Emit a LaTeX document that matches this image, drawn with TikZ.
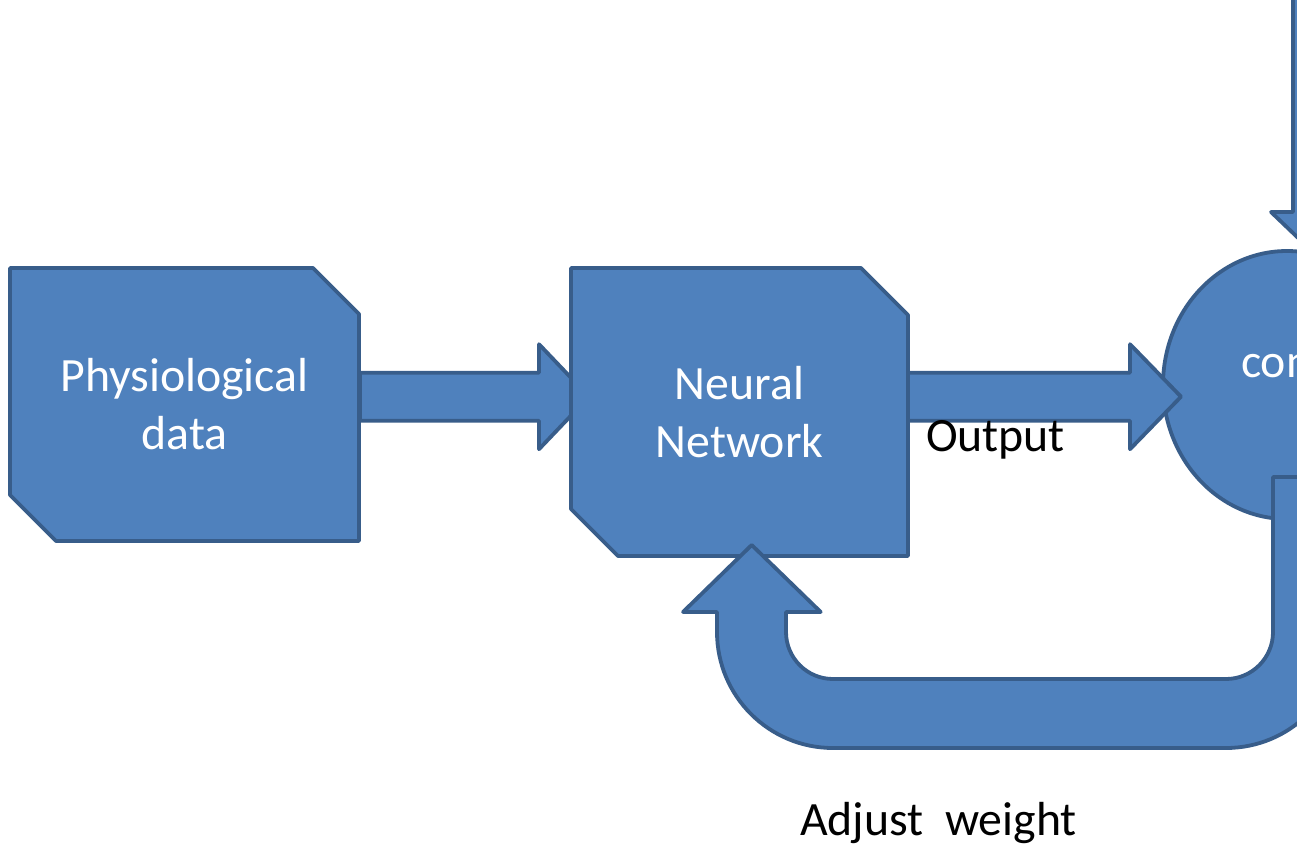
\documentclass[tikz,border=0pt]{standalone}
\usepackage{fontspec}
\setmainfont{Carlito}
\usetikzlibrary{shapes.geometric,calc}
\definecolor{shapefill}{HTML}{4F81BD}
\definecolor{shapeline}{HTML}{385D8A}

% block arrow pointing right: tail, tip, head length
\newcommand\rightblock[3]{%
  \draw[shapestyle] let \p1=(#1), \p2=(#2) in
    (\x1,\y1+24pt) -- (\x2-#3,\y1+24pt) -- (\x2-#3,\y1+52.5pt) -- (\x2,\y1)
    -- (\x2-#3,\y1-52.5pt) -- (\x2-#3,\y1-24pt) -- (\x1,\y1-24pt) -- cycle;}
% block arrow pointing down: tail, tip, head length
\newcommand\downblock[3]{%
  \draw[shapestyle] let \p1=(#1), \p2=(#2) in
    (\x1-24pt,\y1) -- (\x1-24pt,\y2+#3) -- (\x1-46pt,\y2+#3) -- (\x2,\y2)
    -- (\x1+46pt,\y2+#3) -- (\x1+24pt,\y2+#3) -- (\x1+24pt,\y1) -- cycle;}
% box with snipped top-right and bottom-left corners around a frame node
\newcommand\snipbox[2]{%
  \draw[shapestyle] (#1.north west) -- ([xshift=-#2]#1.north east)
    -- ([yshift=-#2]#1.north east) -- (#1.south east)
    -- ([xshift=#2]#1.south west) -- ([yshift=#2]#1.south west) -- cycle;}

\begin{document}
\begin{tikzpicture}[x=1pt,y=-1pt,
  shapestyle/.style={fill=shapefill,draw=shapeline,line width=3.8pt,line join=round},
  frame/.style={inner sep=0pt,outer sep=0pt},
  boxtext/.style={inner sep=0pt,outer sep=0pt,text=white,align=center,
    font=\fontsize{47.8}{58}\selectfont},
  plaintext/.style={inner sep=0pt,outer sep=0pt,anchor=base west,
    font=\fontsize{47.8}{58}\selectfont}]

\clip (0,0) rectangle (1297,843);
\fill[white] (0,0) rectangle (1297,843);

% frames of the two boxes
\path node[frame,minimum width=349pt,minimum height=273pt] (phys) at (184.5,404.5) {};
\path node[frame,minimum width=337pt,minimum height=288pt] (nn) at (739.5,412) {};

\coordinate (a1tail) at (360,396.7);
\coordinate (a1tip) at (589,396.7);
\coordinate (a2tail) at (908,396.7);
\coordinate (a2tip) at (1181,396.7);
\coordinate (toptail) at (1317,-20);
\coordinate (toptip) at (1317,256);

% input box and the arrow into the network
\snipbox{phys}{46pt}
\node[boxtext] (physlabel) at (phys.center) {Physiological\\data};
\rightblock{a1tail}{a1tip}{50pt}

% neural network box
\snipbox{nn}{47pt}
\node[boxtext] (nnlabel) at (nn.center) {Neural\\Network};

% comparator
\node[ellipse,shapestyle,inner sep=0pt,minimum width=248pt,minimum height=268pt] (cmp) at (1287,385) {};
\node[plaintext,text=white] (cmplabel) at (1241,377) {con};

% network output into the comparator, target from above
\rightblock{a2tail}{a2tip}{51pt}
\downblock{toptail}{toptip}{44pt}

% feedback u-turn arrow back to the network
\draw[shapestyle]
  (717,612) -- (717,632) .. controls (717,696.07) and (768.93,748) .. (833,748)
  -- (1226,748) .. controls (1290.07,748) and (1342,696.07) .. (1342,632)
  -- (1342,477) -- (1273,477) -- (1273,632)
  .. controls (1273,657.96) and (1251.96,679) .. (1226,679)
  -- (833,679) .. controls (807.04,679) and (786,657.96) .. (786,632)
  -- (786,612) -- (820.7,612) -- (751.7,545) -- (683,612) -- cycle;

% labels
\node[plaintext] (outlabel) at (926,451) {Output};
\node[plaintext] (adjlabel) at (800,835) {Adjust~~weight};
\end{tikzpicture}
\end{document}
